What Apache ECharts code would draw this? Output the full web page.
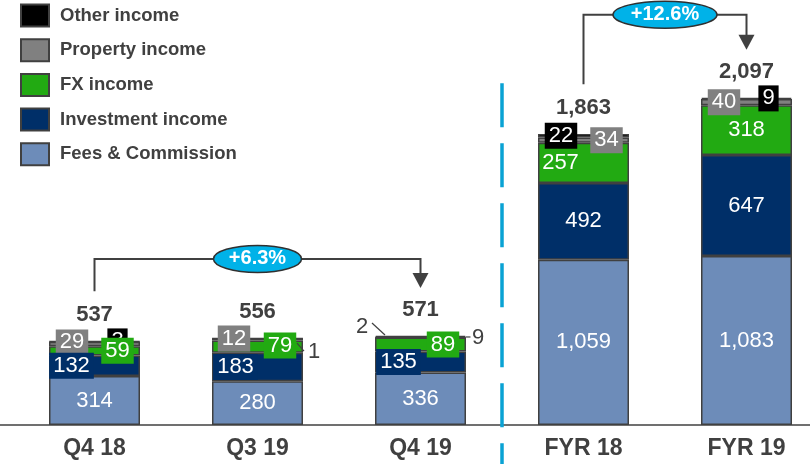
<!DOCTYPE html>
<html><head><meta charset="utf-8">
<script src="https://cdn.jsdelivr.net/npm/echarts@6/dist/echarts.min.js"></script>
<style>html,body{margin:0;padding:0;background:#fff}#c{width:810px;height:464px}</style>
</head><body><div id="c"></div>
<script>
// ---- data ----
const categories = ['Q4 18', 'Q3 19', 'Q4 19', 'FYR 18', 'FYR 19'];
const fees       = [314, 280, 336, 1059, 1083];
const investment = [132, 183, 135, 492, 647];
const fxIncome   = [59, 79, 89, 257, 318];
const property   = [29, 12, 2, 34, 40];
const other      = [3, 1, 9, 22, 9];
const totals     = [537, 556, 571, 1863, 2097];
const growth     = [{from: 0, to: 2, text: '+6.3%'}, {from: 3, to: 4, text: '+12.6%'}];

// ---- styles ----
const TEXT = '#404040';
const FONT = '"Liberation Sans", Arial, sans-serif';
const COLORS = {fees: '#6D8CB9', inv: '#002F68', fx: '#22AA12', prop: '#808080', other: '#000000'};
// label layouts per series per category: [mode, dx, dy]
const L = {
  fees:  [['c',0,0],['c',0,0],['c',0,0],['c',0,0],['c',0,0]],
  inv:   [['b',-23,0],['b',-22,0],['b',-22,0],['c',0,0],['c',0,0]],
  fx:    [['b',23,0],['b',22.5,-1],['b',22.5,0],['c',-23,0],['c',0,0]],
  prop:  [['b',-22.5,-1.5],['b',-23.5,-1],['o',-58.5,-10.5],['b',23,0],['b',-22.5,0]],
  other: [['b',23,0],['o',56.5,13.6],['o',57.5,1.5],['b',-22.5,0],['b',22,0]]
};
const fmt = v => Number(v).toLocaleString('en-US');

function labelFor(spec, color) {
  const [mode, dx, dy] = spec;
  const lab = {show: true, position: 'inside', offset: [dx, dy], formatter: p => fmt(p.value),
    fontFamily: FONT, fontSize: 22, color: '#fff'};
  if (mode === 'b') { lab.backgroundColor = color; lab.padding = [3, 4, 1, 4]; }
  if (mode === 'o') { lab.color = TEXT; }
  return lab;
}
function mkSeries(name, values, key) {
  return {
    name, type: 'bar', stack: 'total', stackOrder: 'seriesDesc', barWidth: 91, z: 2,
    itemStyle: {color: COLORS[key], borderColor: '#404040', borderWidth: 1.5},
    emphasis: {disabled: true},
    data: values.map((v, i) => ({value: v, label: labelFor(L[key][i], COLORS[key])}))
  };
}

const chart = echarts.init(document.getElementById('c'), null, {renderer: 'canvas'});
chart.setOption({
  animation: false,
  grid: {left: 13, right: -18, top: 50.4, bottom: 39, outerBoundsMode: 'none', containLabel: false},
  xAxis: {type: 'category', data: categories,
    axisLine: {show: false}, axisTick: {show: false},
    axisLabel: {margin: 12, color: TEXT, fontFamily: FONT, fontWeight: 'bold', fontSize: 23}},
  yAxis: {type: 'value', min: 0, max: 2400, show: false, splitLine: {show: false}},
  legend: {
    data: ['Other income', 'Property income', 'FX income', 'Investment income', 'Fees & Commission'],
    orient: 'vertical', left: 20, top: 3.5, padding: 0, itemWidth: 28, itemHeight: 22, itemGap: 10.7,
    icon: 'rect', selectedMode: false,
    textStyle: {color: TEXT, fontFamily: FONT, fontWeight: 'bold', fontSize: 18.5, padding: [0, 0, 0, 6]}
  },
  // stacked bottom-up: Fees, Investment, FX, Property, Other (reverse order via stackOrder)
  series: [
    mkSeries('Other income', other, 'other'),
    mkSeries('Property income', property, 'prop'),
    mkSeries('FX income', fxIncome, 'fx'),
    mkSeries('Investment income', investment, 'inv'),
    mkSeries('Fees & Commission', fees, 'fees'),
    {
      name: 'Total', type: 'scatter', symbolSize: 1, z: 5,
      itemStyle: {color: 'rgba(0,0,0,0)', opacity: 1},
      emphasis: {disabled: true},
      label: {show: true, position: 'inside', offset: [0, -26], formatter: p => fmt(p.value[1]),
        color: TEXT, opacity: 1, fontFamily: FONT, fontWeight: 'bold', fontSize: 22},
      data: totals.map((t, i) => [i, t])
    }
  ]
});

// ---- annotations computed from the axes ----
const px = (i, v) => chart.convertToPixel({gridIndex: 0}, [i, v]);
const g = [];
const base = px(0, 0);
g.push({type: 'line', shape: {x1: 0, y1: base[1], x2: 810, y2: base[1]},
  style: {stroke: '#707070', lineWidth: 2}, z: 1});
// dashed divider between Q4 19 and FYR 18
const xa = px(2, 0)[0], xb = px(3, 0)[0];
const dTop = px(3, totals[3])[1] - 51;
g.push({type: 'line', shape: {x1: (xa + xb) / 2, y1: dTop, x2: (xa + xb) / 2, y2: 464},
  style: {stroke: '#0AA2D4', lineWidth: 3.5, lineDash: [44, 16]}, z: 1});
// leader lines for outside labels
const segCenter = (i, lower, val) => px(i, lower + val / 2);
const cumProp = i => fees[i] + investment[i] + fxIncome[i];
function leader(p, a, b) {
  g.push({type: 'line', shape: {x1: p[0] + a[0], y1: p[1] + a[1], x2: p[0] + b[0], y2: p[1] + b[1]},
    style: {stroke: TEXT, lineWidth: 1.2}, z: 10});
}
leader(segCenter(1, cumProp(1) + property[1], other[1]), [39.5, 4.6], [46.5, 12.6]);
leader(segCenter(2, cumProp(2), property[2]), [-48.5, -14.5], [-35.5, -2.5]);
leader(segCenter(2, cumProp(2) + property[2], other[2]), [45.5, 0.4], [50, 0.4]);
// growth brackets
const rise = [77, 83];
growth.forEach((gr, k) => {
  const a = px(gr.from, totals[gr.from]);
  const b = px(gr.to, totals[gr.to]);
  const yTop = Math.min(a[1], b[1]) - rise[k];
  const tip = b[1] - 48;
  g.push({type: 'polyline', shape: {points: [[a[0], a[1] - 50], [a[0], yTop], [b[0], yTop], [b[0], tip - 14]]},
    style: {stroke: TEXT, lineWidth: 2, fill: null}, z: 10});
  g.push({type: 'polygon', shape: {points: [[b[0] - 8, tip - 15], [b[0] + 8, tip - 15], [b[0], tip]]},
    style: {fill: TEXT}, z: 10});
  const cx = (a[0] + b[0]) / 2;
  const rx = k === 0 ? 44 : 52;
  g.push({type: 'ellipse', shape: {cx: cx, cy: yTop, rx: rx, ry: 13.5},
    style: {fill: '#00B2E8', stroke: '#303030', lineWidth: 1.5}, z: 11});
  g.push({type: 'text', x: cx, y: yTop, z: 12,
    style: {text: gr.text, fill: '#fff', font: 'bold 20px ' + FONT, align: 'center', verticalAlign: 'middle'}});
});
chart.setOption({graphic: g});
</script></body></html>
